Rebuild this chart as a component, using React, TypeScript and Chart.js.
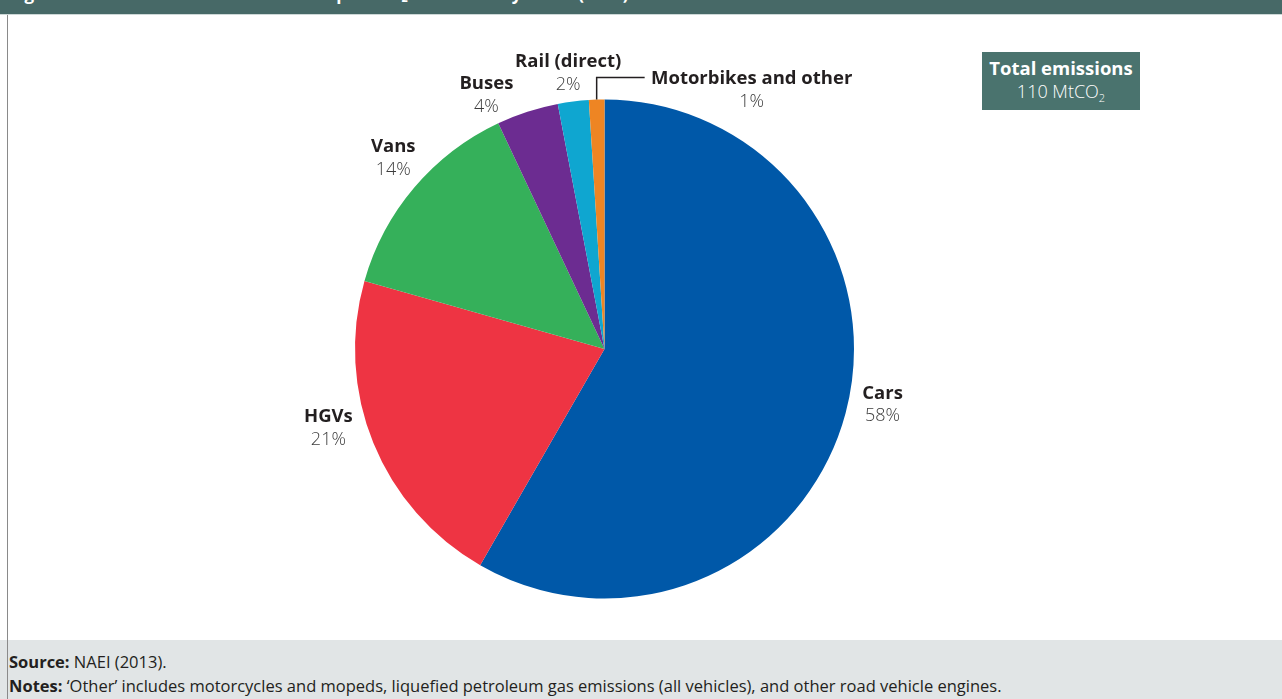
import React, { useEffect, useRef } from "react";
import { Chart, registerables } from "chart.js";

Chart.register(...registerables);

// ---- Data ----
const categories = ["Cars", "HGVs", "Vans", "Buses", "Rail (direct)", "Motorbikes and other"];
const shares = [58.3, 21.1, 13.6, 4.0, 2.0, 1.0];
const sliceColors = ["#0058A8", "#EE3443", "#35B05A", "#6C2C91", "#0FA6D0", "#EE8523"];
const percentLabels = ["58%", "21%", "14%", "4%", "2%", "1%"];
// label block offsets from the slice's outer-edge midpoint (dx, dy)
const labelOffsets: [number, number][] = [
  [37, -9],
  [-45, -15],
  [-21, -30],
  [-41, -17],
  [-5, -29],
  [155, -10],
];
const leaderLines = [false, false, false, false, false, true];

const titleText = "Figure 5.1: Breakdown of surface transport CO\u2082 emissions by mode (2012)";
const totalTitle = "Total emissions";
const totalValue = "110 MtCO";

const FONT = "'Open Sans', 'Noto Sans', sans-serif";

const labelPlugin = {
  id: "sliceLabels",
  afterDatasetsDraw(chart: any) {
    const meta = chart.getDatasetMeta(0);
    const ctx: CanvasRenderingContext2D = chart.ctx;
    ctx.save();
    meta.data.forEach((arc: any, i: number) => {
      const p = arc.getProps(["x", "y", "startAngle", "endAngle", "outerRadius"], true);
      const mid = (p.startAngle + p.endAngle) / 2;
      const ex = p.x + Math.cos(mid) * p.outerRadius;
      const ey = p.y + Math.sin(mid) * p.outerRadius;
      const [dx, dy] = labelOffsets[i];
      const cx = ex + dx;
      const cy = ey + dy;
      if (leaderLines[i]) {
        ctx.strokeStyle = "#231F20";
        ctx.lineWidth = 1.5;
        ctx.beginPath();
        ctx.moveTo(ex, ey);
        ctx.lineTo(ex, cy - 12);
        ctx.lineTo(ex + 48, cy - 12);
        ctx.stroke();
      }
      ctx.textAlign = "center";
      ctx.textBaseline = "middle";
      ctx.fillStyle = "#231F20";
      ctx.font = `bold 18.5px ${FONT}`;
      ctx.fillText(categories[i], cx, cy - 11);
      ctx.fillStyle = "#3C3C3C";
      ctx.font = `300 18px ${FONT}`;
      ctx.fillText(percentLabels[i], cx, cy + 12);
    });
    ctx.restore();
  },
};

export default function App() {
  const canvasRef = useRef<HTMLCanvasElement | null>(null);

  useEffect(() => {
    document.body.style.margin = "0";
    const canvas = canvasRef.current;
    if (!canvas) return;
    const chart = new Chart(canvas, {
      type: "pie",
      data: {
        labels: categories,
        datasets: [
          {
            data: shares,
            backgroundColor: sliceColors,
            borderWidth: 0,
          },
        ],
      },
      options: {
        animation: false,
        responsive: false,
        maintainAspectRatio: false,
        rotation: 0,
        layout: { padding: { left: 355, right: 428, top: 99.5, bottom: 41.5 } },
        plugins: {
          legend: { display: false },
          tooltip: { enabled: false },
        },
      },
      plugins: [labelPlugin],
    });
    return () => chart.destroy();
  }, []);

  return (
    <div style={{ position: "relative", width: 1282, height: 699, overflow: "hidden", background: "#fff", fontFamily: FONT }}>
      {/* header bar with clipped title */}
      <div style={{ position: "absolute", left: 0, top: 0, width: 1282, height: 14, background: "#476967", overflow: "hidden" }}>
        <div style={{ position: "absolute", left: 10, top: -16, color: "#fff", fontWeight: 700, fontSize: 17, lineHeight: "20px", whiteSpace: "nowrap" }}>
          {titleText}
        </div>
      </div>
      <div style={{ position: "absolute", left: 0, top: 14, width: 1282, height: 1, background: "#cdd8d7" }} />
      {/* footer */}
      <div style={{ position: "absolute", left: 0, top: 640, width: 1282, height: 59, background: "#E1E5E6", color: "#231F20", fontSize: 16.5 }}>
        <div style={{ position: "absolute", left: 9, top: 11, lineHeight: "22px", whiteSpace: "nowrap" }}>
          <b>Source:</b> NAEI (2013).
        </div>
        <div style={{ position: "absolute", left: 9, top: 35, lineHeight: "22px", whiteSpace: "nowrap" }}>
          <b>Notes:</b> {"\u2018Other\u2019 includes motorcycles and mopeds, liquefied petroleum gas emissions (all vehicles), and other road vehicle engines."}
        </div>
      </div>
      {/* left frame line */}
      <div style={{ position: "absolute", left: 7, top: 15, width: 1, height: 684, background: "#8a8a8a" }} />
      {/* chart canvas */}
      <canvas ref={canvasRef} width={1282} height={640} style={{ position: "absolute", left: 0, top: 0, width: 1282, height: 640 }} />
      {/* total emissions box */}
      <div style={{ position: "absolute", left: 982, top: 52, width: 158, height: 58, background: "#4A736E", color: "#fff", textAlign: "center" }}>
        <div style={{ fontWeight: 700, fontSize: 18.5, lineHeight: "22px", marginTop: 5 }}>{totalTitle}</div>
        <div style={{ fontWeight: 300, fontSize: 18, lineHeight: "22px", marginTop: 1 }}>
          {totalValue}
          <sub style={{ fontSize: 11, verticalAlign: "-4px" }}>2</sub>
        </div>
      </div>
    </div>
  );
}
